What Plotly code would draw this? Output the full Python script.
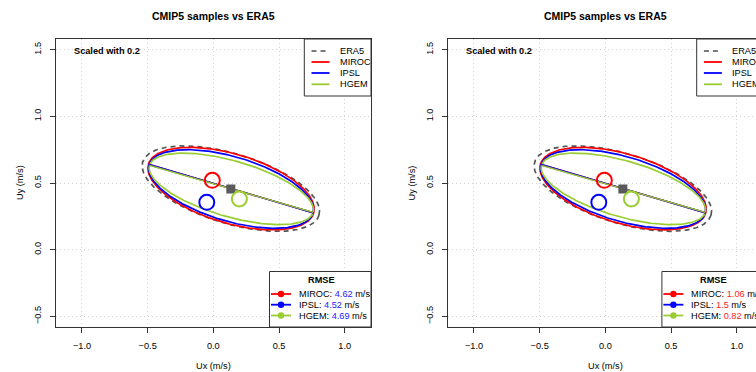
import numpy as np
import plotly.graph_objects as go

W, H = 756, 372

# ---------------- data ----------------
names = ["ERA5", "MIROC", "IPSL", "HGEM"]
colors = ["#555555", "#ff0000", "#0000ff", "#9acd32"]
axis_colors = ["#707070", "#ff0000", "#0000ff", "#9acd32"]

# fitted ellipses (centre, semi-axes, orientation in degrees)
ell_cx = [0.133, 0.135, 0.135, 0.137]
ell_cy = [0.458, 0.458, 0.455, 0.456]
ell_a = [0.70, 0.655, 0.650, 0.648]
ell_b = [0.262, 0.260, 0.242, 0.210]
ell_ang = [-16.5, -16.2, -16.2, -15.8]

# major-axis line end points
axis_x0 = [-0.49, -0.494, -0.494, -0.486]
axis_y0 = [0.635, 0.641, 0.641, 0.632]
axis_x1 = [0.76, 0.764, 0.764, 0.760]
axis_y1 = [0.280, 0.275, 0.275, 0.280]

# mean wind vectors
mean_x = [0.133, -0.008, -0.050, 0.198]
mean_y = [0.455, 0.520, 0.355, 0.380]

models = ["MIROC", "IPSL", "HGEM"]
model_colors = ["#ff0000", "#0000ff", "#9acd32"]
rmse_left = ["4.62", "4.52", "4.69"]
rmse_right = ["1.06", "1.5", "0.82"]

x_ticks = [-1.0, -0.5, 0.0, 0.5, 1.0]
y_ticks = [-0.5, 0.0, 0.5, 1.0, 1.5]

FONT = "Liberation Sans, Arial, Helvetica, sans-serif"

fig = go.Figure()


def px(xp, yp):
    return xp / W, 1 - yp / H


shapes = []
annots = []


def add_panel(k, dx, rmse_vals, val_color):
    xa = "x" if k == 0 else "x2"
    ya = "y" if k == 0 else "y2"
    t = np.linspace(0, 2 * np.pi, 361)
    for i, nm in enumerate(names):
        th = np.deg2rad(ell_ang[i])
        ex = ell_cx[i] + ell_a[i] * np.cos(t) * np.cos(th) - ell_b[i] * np.sin(t) * np.sin(th)
        ey = ell_cy[i] + ell_a[i] * np.cos(t) * np.sin(th) + ell_b[i] * np.sin(t) * np.cos(th)
        fig.add_trace(go.Scatter(
            x=ex, y=ey, mode="lines", xaxis=xa, yaxis=ya, showlegend=False,
            line=dict(color=colors[i], width=1.7, dash="5px,4px" if i == 0 else "solid"),
            hoverinfo="skip"))
    for i, nm in enumerate(names):
        fig.add_trace(go.Scatter(
            x=[axis_x0[i], axis_x1[i]], y=[axis_y0[i], axis_y1[i]], mode="lines",
            xaxis=xa, yaxis=ya, showlegend=False,
            line=dict(color=axis_colors[i], width=1.4), hoverinfo="skip"))
    for i, nm in enumerate(names):
        if i == 0:
            mk = dict(symbol="square", size=9, color="#5a5a5a")
        else:
            mk = dict(symbol="circle-open", size=15, color=colors[i], line=dict(width=2, color=colors[i]))
        fig.add_trace(go.Scatter(
            x=[mean_x[i]], y=[mean_y[i]], mode="markers", xaxis=xa, yaxis=ya,
            showlegend=False, marker=mk, hoverinfo="skip"))

    # title
    x, y = px(213.4 + dx, 16.5)
    annots.append(dict(x=x, y=y, xref="paper", yref="paper", text="<b>CMIP5 samples vs ERA5</b>",
                       showarrow=False, xanchor="center", yanchor="middle",
                       font=dict(size=10.5, color="#000")))
    # scaled note
    x, y = px(71.5 + dx, 51)
    annots.append(dict(x=x, y=y, xref="paper", yref="paper", text="<b>Scaled with 0.2</b>",
                       showarrow=False, xanchor="left", yanchor="middle",
                       font=dict(size=9.2, color="#000")))
    # axis titles
    x, y = px(213.4 + dx, 366)
    annots.append(dict(x=x, y=y, xref="paper", yref="paper", text="Ux (m/s)",
                       showarrow=False, xanchor="center", yanchor="middle",
                       font=dict(size=9.2, color="#000")))
    x, y = px(20 + dx, 183)
    annots.append(dict(x=x, y=y, xref="paper", yref="paper", text="Uy (m/s)", textangle=-90,
                       showarrow=False, xanchor="center", yanchor="middle",
                       font=dict(size=9.2, color="#000")))

    # legend 1
    x0, y0 = px(304.3 + dx, 39)
    x1, y1 = px(371 + dx, 96)
    shapes.append(dict(type="rect", xref="paper", yref="paper", x0=x0, y0=y0, x1=x1, y1=y1,
                       line=dict(color="#333", width=1), fillcolor="white", layer="above"))
    rows = [51, 62, 73, 84.3]
    for i, nm in enumerate(names):
        a0, b0 = px(311.5 + dx, rows[i])
        a1, b1 = px(329.5 + dx, rows[i])
        shapes.append(dict(type="line", xref="paper", yref="paper", x0=a0, y0=b0, x1=a1, y1=b1,
                           line=dict(color=colors[i] if i else "#7a7a7a", width=1.8,
                                     dash="5px,4px" if i == 0 else "solid"), layer="above"))
        tx, ty = px(337.5 + dx, rows[i])
        annots.append(dict(x=tx, y=ty, xref="paper", yref="paper", text=nm, showarrow=False,
                           xanchor="left", yanchor="middle", font=dict(size=9.2, color="#000")))

    # RMSE legend
    x0, y0 = px(269.5 + dx, 271.5)
    x1, y1 = px(371 + dx, 327)
    shapes.append(dict(type="rect", xref="paper", yref="paper", x0=x0, y0=y0, x1=x1, y1=y1,
                       line=dict(color="#333", width=1), fillcolor="white", layer="above"))
    tx, ty = px(321 + dx, 280)
    annots.append(dict(x=tx, y=ty, xref="paper", yref="paper", text="<b>RMSE</b>", showarrow=False,
                       xanchor="center", yanchor="middle", font=dict(size=9.2, color="#000")))
    rrows = [294, 304.7, 315.5]
    for i, m in enumerate(models):
        a0, b0 = px(271 + dx, rrows[i])
        a1, b1 = px(291 + dx, rrows[i])
        shapes.append(dict(type="line", xref="paper", yref="paper", x0=a0, y0=b0, x1=a1, y1=b1,
                           line=dict(color=model_colors[i], width=1.8), layer="above"))
        c0, d0 = px(281 + dx - 3.2, rrows[i] - 3.2)
        c1, d1 = px(281 + dx + 3.2, rrows[i] + 3.2)
        shapes.append(dict(type="circle", xref="paper", yref="paper", x0=c0, y0=d0, x1=c1, y1=d1,
                           line=dict(color=model_colors[i], width=0), fillcolor=model_colors[i],
                           layer="above"))
        tx, ty = px(296.7 + dx, rrows[i])
        txt = f"{m}: <span style='color:{val_color}'>{rmse_vals[i]}</span> m/s"
        annots.append(dict(x=tx, y=ty, xref="paper", yref="paper", text=txt, showarrow=False,
                           xanchor="left", yanchor="middle", font=dict(size=9.2, color="#000")))


add_panel(0, 0.0, rmse_left, "#2222ff")
add_panel(1, 392.4, rmse_right, "#ff2222")

axis_common = dict(
    showline=True, linecolor="#333", linewidth=1,
    ticks="outside", ticklen=5, tickwidth=1, tickcolor="#333",
    showgrid=True, gridcolor="#d3d3d3", griddash="1px,3px", gridwidth=1,
    zeroline=False, tickfont=dict(size=9.2, color="#000", family=FONT),
    tickformat=".1f", fixedrange=True,
)

xd1 = [55.7 / W, 371 / W]
xd2 = [447.7 / W, 1.0]
yd = [1 - 327 / H, 1 - 39 / H]

fig.update_layout(
    width=W, height=H, margin=dict(l=0, r=0, t=0, b=0),
    paper_bgcolor="white", plot_bgcolor="white",
    font=dict(family=FONT, color="#000"),
    xaxis=dict(domain=xd1, range=[-1.2, 1.2], tickvals=x_ticks, mirror=True, anchor="y",
               ticklabelstandoff=5, **axis_common),
    yaxis=dict(domain=yd, range=[-0.58, 1.58], tickvals=y_ticks, mirror=True, anchor="x",
               tickangle=-90, ticklabelstandoff=5, **axis_common),
    xaxis2=dict(domain=xd2, range=[-1.2, -1.2 + (W - 447.7) / 131.4], tickvals=x_ticks,
                mirror=True, anchor="y2", ticklabelstandoff=5, **axis_common),
    yaxis2=dict(domain=yd, range=[-0.58, 1.58], tickvals=y_ticks, mirror=False, anchor="x2",
                tickangle=-90, ticklabelstandoff=5, **axis_common),
    shapes=shapes, annotations=annots, showlegend=False,
)

fig.write_html("out.html")
